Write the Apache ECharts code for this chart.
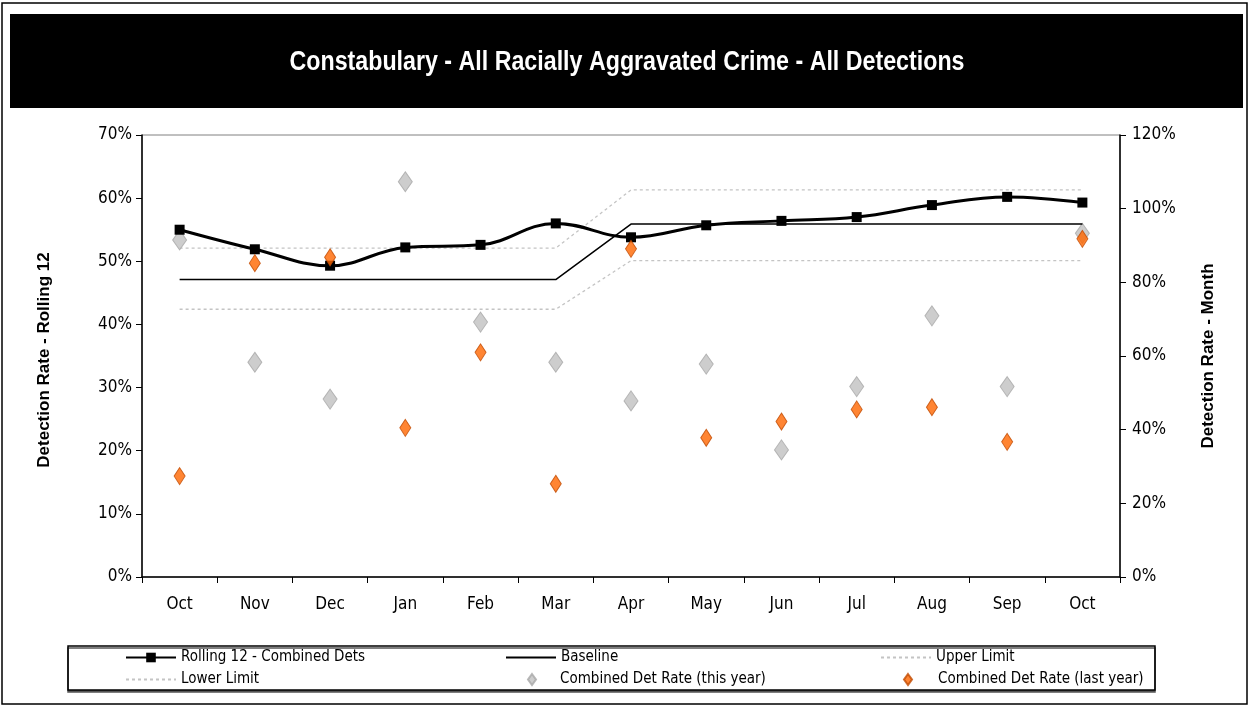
<!DOCTYPE html>
<html>
<head>
<meta charset="utf-8">
<script src="https://cdn.jsdelivr.net/npm/echarts@6/dist/echarts.min.js"></script>
<style>
  html, body { margin: 0; padding: 0; background: #fff; }
  #chart { width: 1253px; height: 707px; }
</style>
</head>
<body>
<div id="chart"></div>
<script>
// Months along the x axis (13 points, Oct to Oct)
const months = ["Oct", "Nov", "Dec", "Jan", "Feb", "Mar", "Apr", "May", "Jun", "Jul", "Aug", "Sep", "Oct"];

// Left axis (Rolling 12), percent
const rolling12 = [55.0, 51.9, 49.3, 52.2, 52.6, 56.0, 53.8, 55.7, 56.4, 57.0, 58.9, 60.2, 59.3];
const baseline = [47.1, 47.1, 47.1, 47.1, 47.1, 47.1, 55.9, 55.9, 55.9, 55.9, 55.9, 55.9, 55.9];
const upperLimit = [52.1, 52.1, 52.1, 52.1, 52.1, 52.1, 61.3, 61.3, 61.3, 61.3, 61.3, 61.3, 61.3];
const lowerLimit = [42.4, 42.4, 42.4, 42.4, 42.4, 42.4, 50.1, 50.1, 50.1, 50.1, 50.1, 50.1, 50.1];

// Right axis (Month), percent
const thisYear = [91.5, 58.3, 48.3, 107.3, 69.2, 58.3, 47.8, 57.8, 34.5, 51.7, 70.9, 51.7, 93.3];
const lastYear = [27.4, 85.2, 86.8, 40.5, 61.0, 25.3, 89.1, 37.8, 42.2, 45.5, 46.1, 36.7, 91.8];

const TITLE = "Constabulary - All Racially Aggravated Crime - All Detections";
const NARROW = "'DejaVu Sans Condensed', 'Liberation Sans Narrow', sans-serif";
const SANS = "'Liberation Sans', Arial, sans-serif";

// squeeze the title into the same width as the original (Arial Narrow look)
const titleFont = "bold 26px 'Liberation Sans', Arial, sans-serif";
const ctx = document.createElement("canvas").getContext("2d");
ctx.font = titleFont;
const titleScaleX = 675 / ctx.measureText(TITLE).width;

const chart = echarts.init(document.getElementById("chart"), null, { renderer: "canvas" });

const labelStyle = { color: "#000", fontFamily: NARROW, fontSize: 17 };
const legendText = { color: "#000", fontFamily: NARROW, fontSize: 15 };

// one legend per entry so each sits in its own column
function legendAt(name, left, top, w, extra) {
  return Object.assign({
    data: [name], left: left, top: top,
    itemWidth: w, itemHeight: 12,
    selectedMode: false, padding: 0,
    textStyle: legendText
  }, extra || {});
}
const noDot = { itemStyle: { opacity: 0 } };
function diamondLegend(gap) {
  return {
    itemWidth: 8, itemHeight: 11, icon: "diamond",
    textStyle: Object.assign({ padding: [0, 0, 0, gap] }, legendText)
  };
}

const option = {
  animation: false,
  backgroundColor: "#fff",
  graphic: [
    { type: "rect", shape: { x: 2, y: 3, width: 1245, height: 701 },
      style: { fill: "none", stroke: "#000", lineWidth: 1.5 }, z: -1 },
    { type: "rect", shape: { x: 10, y: 14, width: 1233, height: 94 },
      style: { fill: "#000" }, z: -1 },
    { type: "text", x: 627, y: 62, scaleX: titleScaleX, scaleY: 1.05,
      style: { text: TITLE, fill: "#fff", font: titleFont,
               align: "center", verticalAlign: "middle" } },
    { type: "rect", shape: { x: 68, y: 646, width: 1087, height: 44 },
      style: { fill: "#fff", stroke: "#000", lineWidth: 1.5,
               shadowColor: "#555", shadowOffsetY: 2, shadowBlur: 0 }, z: -1 }
  ],
  legend: [
    legendAt("Rolling 12 - Combined Dets", 125, 650, 50),
    legendAt("Baseline", 505, 650, 50, noDot),
    legendAt("Upper Limit", 880, 650, 50, noDot),
    legendAt("Lower Limit", 125, 672, 50, noDot),
    legendAt("Combined Det Rate (this year)", 527, 672, 8, diamondLegend(19)),
    legendAt("Combined Det Rate (last year)", 903, 672, 8, diamondLegend(21))
  ],
  grid: {
    left: 142, right: 133, top: 135, bottom: 130,
    show: true, borderColor: "#808080", borderWidth: 1
  },
  xAxis: {
    type: "category",
    data: months,
    boundaryGap: true,
    axisLine: { lineStyle: { color: "#000", width: 1.5 } },
    axisTick: { show: true, length: 6, lineStyle: { color: "#000" } },
    axisLabel: Object.assign({ margin: 19 }, labelStyle),
    splitLine: { show: false }
  },
  yAxis: [
    {
      type: "value", min: 0, max: 70, interval: 10,
      name: "Detection Rate - Rolling 12",
      nameLocation: "middle", nameGap: 89, nameRotate: 90,
      nameTextStyle: { color: "#000", fontFamily: SANS, fontSize: 17, fontWeight: "bold",
                       padding: [0, 8, 0, 0] },
      axisLine: { show: true, lineStyle: { color: "#000", width: 1.5 } },
      axisTick: { show: true, length: 6, lineStyle: { color: "#000" } },
      axisLabel: Object.assign({ margin: 10, formatter: "{value}%" }, labelStyle),
      splitLine: { show: false }
    },
    {
      type: "value", min: 0, max: 120, interval: 20,
      name: "Detection Rate - Month",
      nameLocation: "middle", nameGap: 80, nameRotate: 90,
      nameTextStyle: { color: "#000", fontFamily: SANS, fontSize: 17, fontWeight: "bold" },
      axisLine: { show: true, lineStyle: { color: "#000", width: 1.5 } },
      axisTick: { show: true, length: 6, lineStyle: { color: "#000" } },
      axisLabel: Object.assign({ margin: 12, formatter: "{value}%" }, labelStyle),
      splitLine: { show: false }
    }
  ],
  series: [
    {
      name: "Combined Det Rate (this year)", type: "scatter", yAxisIndex: 1,
      data: thisYear, symbol: "diamond", symbolSize: [14, 20], symbolKeepAspect: true,
      itemStyle: { color: "#c0c0c0", borderColor: "#a8a8a8", borderWidth: 1 }, z: 1
    },
    {
      name: "Upper Limit", type: "line", yAxisIndex: 0, data: upperLimit,
      symbol: "none", lineStyle: { color: "#c4c4c4", width: 1.3, type: [3, 3] },
      itemStyle: { color: "#c4c4c4" }, z: 1
    },
    {
      name: "Lower Limit", type: "line", yAxisIndex: 0, data: lowerLimit,
      symbol: "none", lineStyle: { color: "#c4c4c4", width: 1.3, type: [3, 3] },
      itemStyle: { color: "#c4c4c4" }, z: 1
    },
    {
      name: "Baseline", type: "line", yAxisIndex: 0, data: baseline,
      symbol: "none", lineStyle: { color: "#000", width: 1.5 },
      itemStyle: { color: "#000" }, z: 2
    },
    {
      name: "Rolling 12 - Combined Dets", type: "line", yAxisIndex: 0, data: rolling12,
      smooth: 0.4, symbol: "rect", symbolSize: 10, showAllSymbol: true,
      lineStyle: { color: "#000", width: 3 },
      itemStyle: { color: "#000" }, z: 3
    },
    {
      name: "Combined Det Rate (last year)", type: "scatter", yAxisIndex: 1,
      data: lastYear, symbol: "diamond", symbolSize: [11, 17], symbolKeepAspect: true,
      itemStyle: { color: "#ff6600", borderColor: "#c04a00", borderWidth: 1 }, z: 4
    }
  ]
};

chart.setOption(option);
</script>
</body>
</html>
